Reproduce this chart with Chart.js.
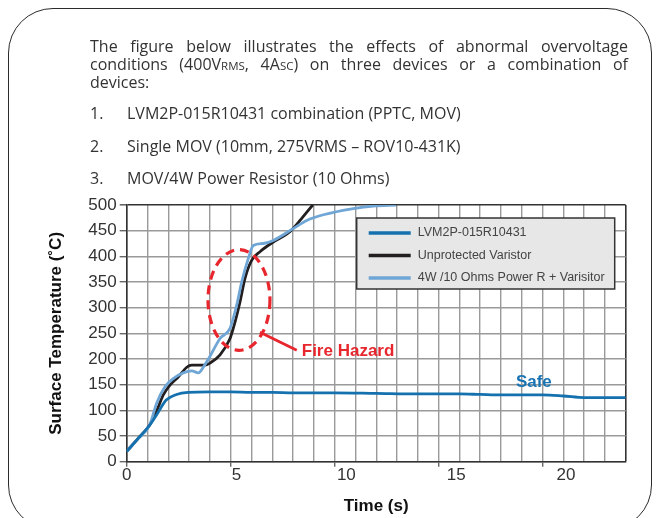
<!DOCTYPE html>
<html><head><meta charset="utf-8">
<script src="https://cdn.jsdelivr.net/npm/chart.js@4.4.1/dist/chart.umd.min.js"></script>
<style>
html,body{margin:0;padding:0;background:#fff;}
body{width:660px;height:518px;position:relative;overflow:hidden;font-family:'Open Sans',sans-serif;color:#333;}
#frame{position:absolute;left:8px;top:8px;width:642px;height:520px;border:1.5px solid #2b2b2b;border-radius:45px;}
#wrap{position:absolute;left:0;top:0;width:660px;height:518px;}
.t{position:absolute;left:90px;width:538px;font-size:16px;line-height:18px;white-space:nowrap;}
.j{text-align:justify;text-align-last:justify;}
.sc{font-size:11.5px;}
.n{position:absolute;left:90px;font-size:16px;line-height:18px;white-space:nowrap;}
.it{position:absolute;left:127px;font-size:16px;line-height:18px;white-space:nowrap;}
</style></head>
<body>
<div id="frame"></div>
<div id="wrap"><canvas id="c"></canvas></div>
<div class="t j" style="top:37px">The figure below illustrates the effects of abnormal overvoltage</div>
<div class="t j" style="top:55px">conditions (400V<span class="sc">RMS</span>, 4A<span class="sc">SC</span>) on three devices or a combination of</div>
<div class="t" style="top:73px">devices:</div>
<div class="n" style="top:104px">1.</div><div class="it" style="top:104px">LVM2P-015R10431 combination (PPTC, MOV)</div>
<div class="n" style="top:137px">2.</div><div class="it" style="top:137px">Single MOV (10mm, 275VRMS – ROV10-431K)</div>
<div class="n" style="top:169px">3.</div><div class="it" style="top:169px">MOV/4W Power Resistor (10 Ohms)</div>
<script>
// ---- data ----
const seriesNames = ['LVM2P-015R10431', 'Unprotected Varistor', '4W /10 Ohms Power R + Varisitor'];
const lvmTime  = [0, 0.5, 1.1, 1.45, 1.9, 2.4, 2.95, 4, 5, 6, 7, 8, 10, 12, 14, 16, 17, 18, 20, 21, 22, 24];
const lvmTemp  = [20, 43, 71, 92, 120, 131, 135, 136, 136, 135, 135, 134, 134, 133, 132, 132, 131, 130, 130, 128, 125, 125];
const unprotTime = [0, 0.5, 1.1, 1.45, 1.76, 2.08, 2.48, 2.89, 3.13, 3.77, 4.0, 4.49, 4.97, 5.21, 5.45, 5.69, 6.01, 6.41, 7.05, 7.85, 8.42, 8.95];
const unprotTemp = [20, 43, 71, 100, 130, 149, 165, 184, 188, 188, 192, 208, 240, 272, 311, 357, 392, 409, 428, 448, 474, 500];
const resTime = [0, 0.5, 1.1, 1.44, 1.84, 2.24, 2.72, 3.13, 3.45, 3.7, 4.0, 4.49, 4.97, 5.29, 5.53, 5.85, 6.09, 6.57, 7.05, 8.01, 8.66, 9.46, 10.9, 11.86, 12.95];
const resTemp = [20, 43, 71, 114, 146, 162, 173, 177, 173, 185, 205, 240, 260, 305, 350, 396, 421, 425, 431, 454, 470, 481, 493, 498, 500];
const yTicks = [0, 50, 100, 150, 200, 250, 300, 350, 400, 450, 500];
const xTickLabels = [0, 5, 10, 15, 20];

const toPts = (xs, ys) => xs.map((v, i) => ({x: v, y: ys[i]}));
const colors = ['#1570ae', '#231f20', '#6fa6d6'];

const annotations = {
  ellipse: {x: 5.40, y: 315, rx: 1.49, ry: 98},
  pointer: {x1: 6.41, y1: 252, x2: 8.18, y2: 217},
  fire: {x: 8.42, y: 215, text: 'Fire Hazard'},
  safe: {x: 18.72, y: 154, text: 'Safe'}
};

const annotPlugin = {
  id: 'annot',
  afterDatasetsDraw(chart) {
    const {ctx, scales: {x, y}} = chart;
    const a = annotations;
    ctx.save();
    const red = '#e8262d';
    const cx = x.getPixelForValue(a.ellipse.x), cy = y.getPixelForValue(a.ellipse.y);
    const rx = x.getPixelForValue(a.ellipse.x + a.ellipse.rx) - cx;
    const ry = cy - y.getPixelForValue(a.ellipse.y + a.ellipse.ry);
    ctx.strokeStyle = red; ctx.lineWidth = 3.2; ctx.setLineDash([9, 6]);
    ctx.beginPath(); ctx.ellipse(cx, cy, rx, ry, 0, 0, Math.PI * 2); ctx.stroke();
    ctx.setLineDash([]); ctx.lineWidth = 2.8;
    ctx.beginPath();
    ctx.moveTo(x.getPixelForValue(a.pointer.x1), y.getPixelForValue(a.pointer.y1));
    ctx.lineTo(x.getPixelForValue(a.pointer.x2), y.getPixelForValue(a.pointer.y2));
    ctx.stroke();
    ctx.font = 'bold 17px "Liberation Sans", Arial, sans-serif';
    ctx.textBaseline = 'middle'; ctx.textAlign = 'left';
    ctx.fillStyle = red;
    ctx.fillText(a.fire.text, x.getPixelForValue(a.fire.x), y.getPixelForValue(a.fire.y));
    ctx.fillStyle = '#1a74b4';
    ctx.fillText(a.safe.text, x.getPixelForValue(a.safe.x), y.getPixelForValue(a.safe.y));
    ctx.restore();
  },
  afterDraw(chart) {
    const {ctx, chartArea: ca} = chart;
    const bx = ca.right - 269, by = ca.top + 13, bw = 258, bh = 71;
    ctx.save();
    ctx.fillStyle = '#e7e7e7';
    ctx.fillRect(bx, by, bw, bh);
    ctx.strokeStyle = '#333'; ctx.lineWidth = 1.5;
    ctx.strokeRect(bx, by, bw, bh);
    ctx.font = '12.5px "Liberation Sans", Arial, sans-serif';
    ctx.textBaseline = 'middle'; ctx.textAlign = 'left';
    chart.data.datasets.forEach((ds, i) => {
      const ry = by + 15 + i * 22.5;
      ctx.strokeStyle = ds.borderColor; ctx.lineWidth = 3.5;
      ctx.beginPath(); ctx.moveTo(bx + 12, ry); ctx.lineTo(bx + 54, ry); ctx.stroke();
      ctx.fillStyle = '#444';
      ctx.fillText(ds.label, bx + 61, ry);
    });
    ctx.restore();
  }
};

const FONT = '"Liberation Sans", Arial, sans-serif';

new Chart(document.getElementById('c'), {
  type: 'line',
  data: {
    datasets: [
      {label: seriesNames[0], data: toPts(lvmTime, lvmTemp), borderColor: colors[0]},
      {label: seriesNames[1], data: toPts(unprotTime, unprotTemp), borderColor: colors[1]},
      {label: seriesNames[2], data: toPts(resTime, resTemp), borderColor: colors[2]}
    ].map((d, i) => Object.assign(d, {borderWidth: 2.8, pointRadius: 0, cubicInterpolationMode: 'monotone', fill: false, order: [0, 2, 1][i]}))
  },
  options: {
    responsive: true, maintainAspectRatio: false, animation: false,
    layout: {padding: {top: 205, right: 34.3, left: 0, bottom: 0}},
    plugins: {legend: {display: false}, tooltip: {enabled: false}},
    scales: {
      x: {
        type: 'linear', min: 0, max: 24, position: 'bottom', weight: 0,
        afterFit: s => { s.height = 3; },
        ticks: {display: false, stepSize: 1, autoSkip: false},
        grid: {
          color: c => (c.tick && c.tick.value === 24) ? '#333' : '#9a9a9a',
          lineWidth: c => (c.tick && c.tick.value === 24) ? 1.6 : 1.4,
          tickLength: 5,
          tickColor: c => (c.tick && c.tick.value % 5 === 0) ? '#666' : 'rgba(0,0,0,0)'
        },
        border: {color: '#333', width: 1.6}
      },
      xl: {
        type: 'linear', min: 0, max: 22.72, position: 'bottom', weight: 1,
        afterFit: s => { s.height = 53.3; },
        afterBuildTicks: s => { s.ticks = xTickLabels.map(v => ({value: v})); },
        ticks: {font: {family: FONT, size: 17}, color: '#333', padding: 0, includeBounds: false, maxRotation: 0},
        grid: {display: false, drawTicks: false},
        border: {display: false},
        title: {display: true, text: 'Time (s)', font: {family: FONT, size: 17, weight: 'bold'}, color: '#111', padding: {top: 0, bottom: 1}}
      },
      y: {
        min: 0, max: 500,
        afterFit: s => { s.width = 126.7; },
        afterBuildTicks: s => { s.ticks = yTicks.map(v => ({value: v})); },
        ticks: {font: {family: FONT, size: 17}, color: '#333', padding: 3},
        grid: {
          color: c => (c.tick && c.tick.value === 500) ? '#333' : '#9a9a9a',
          lineWidth: c => (c.tick && c.tick.value === 500) ? 1.6 : 1.4,
          tickLength: 7, tickColor: '#666'
        },
        border: {color: '#333', width: 1.6},
        title: {display: true, text: 'Surface Temperature (˚C)', font: {family: FONT, size: 17, weight: 'bold'}, color: '#111', padding: {top: 46}}
      }
    }
  },
  plugins: [annotPlugin]
});
</script>
</body></html>
